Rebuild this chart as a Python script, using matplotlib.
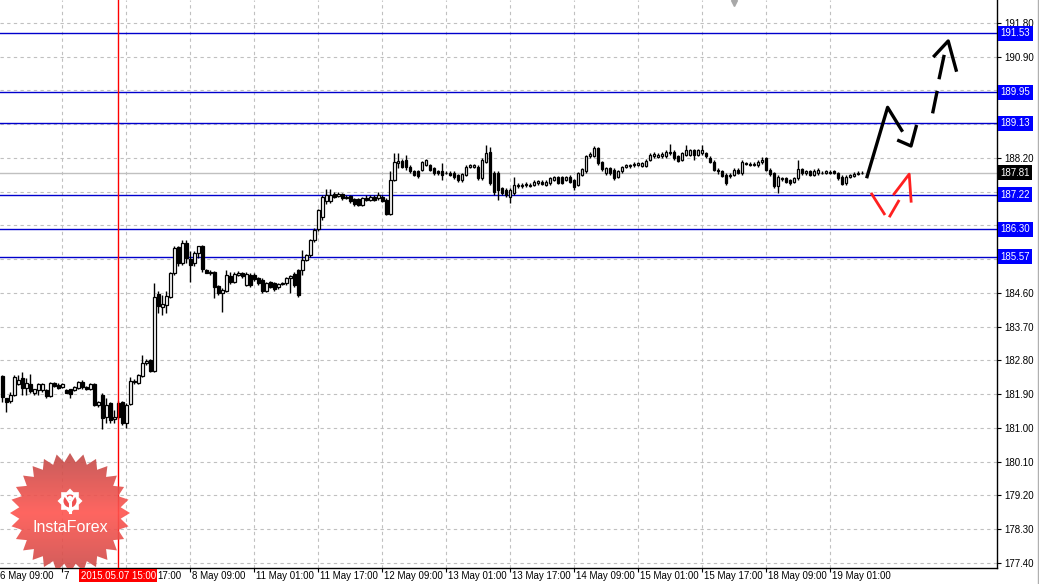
import matplotlib
matplotlib.use('Agg')
import matplotlib.pyplot as plt
import numpy as np
from matplotlib.patches import Polygon, Circle
from matplotlib.lines import Line2D

plt.rcParams['font.family'] = ['Liberation Sans', 'DejaVu Sans']

# H1 candles, bar 0 = 6 May 10:00 ... bar 215 = 19 May 09:00
opens = [
    182.38, 181.79, 181.73, 181.88, 182.17, 182.32, 182.06, 182.17, 181.94, 182.01,
    182.01, 182.01, 181.85, 182.19, 182.14, 182.10, 182.01, 182.03, 182.01, 182.06,
    182.23, 182.08, 182.03, 182.17, 181.61, 181.88, 181.28, 181.66, 181.23, 181.66,
    181.68, 181.14, 181.64, 182.23, 182.21, 182.39, 182.72, 182.80, 182.53, 184.56,
    184.22, 184.28, 184.50, 185.12, 185.82, 185.39, 185.94, 185.50, 185.39, 185.66,
    185.85, 185.21, 185.12, 185.15, 184.79, 184.61, 184.66, 185.06, 184.90, 185.08,
    185.12, 184.81, 185.08, 185.08, 184.99, 184.95, 184.65, 184.88, 184.86, 184.75,
    184.83, 184.86, 184.99, 185.11, 185.21, 185.21, 185.48, 185.61, 186.01, 186.30,
    186.62, 187.04, 187.04, 187.23, 187.19, 187.23, 187.13, 187.19, 187.10, 187.10,
    186.95, 187.12, 187.08, 187.17, 187.12, 187.17, 187.08, 186.71, 187.61, 188.06,
    188.13, 188.15, 187.97, 187.84, 187.84, 187.88, 188.02, 188.01, 187.92, 187.84,
    187.84, 187.79, 187.81, 187.81, 187.75, 187.60, 187.75, 187.97, 187.97, 187.97,
    187.66, 188.10, 188.37, 187.79, 187.79, 187.39, 187.35, 187.17, 187.26, 187.44,
    187.44, 187.47, 187.45, 187.48, 187.52, 187.57, 187.48, 187.52, 187.61, 187.68,
    187.68, 187.61, 187.70, 187.61, 187.48, 187.75, 187.84, 188.24, 188.25, 188.46,
    188.08, 187.79, 187.92, 187.88, 187.70, 187.84, 187.95, 187.98, 188.00, 188.02,
    187.99, 187.99, 188.15, 188.24, 188.22, 188.24, 188.24, 188.37, 188.37, 188.24,
    188.15, 188.28, 188.28, 188.41, 188.28, 188.32, 188.32, 188.19, 188.10, 187.88,
    187.84, 187.75, 187.72, 187.75, 187.88, 187.79, 188.06, 188.04, 188.02, 188.01,
    188.08, 188.19, 187.88, 187.79, 187.44, 187.63, 187.66, 187.61, 187.57, 187.66,
    187.90, 187.79, 187.84, 187.75, 187.79, 187.81, 187.80, 187.83, 187.84, 187.79,
    187.70, 187.52, 187.70, 187.72, 187.77, 187.79,
]
highs = [
    182.41, 181.81, 181.97, 182.41, 182.41, 182.50, 182.32, 182.44, 182.05, 182.19,
    182.20, 182.05, 182.22, 182.22, 182.19, 182.20, 182.03, 182.05, 182.12, 182.26,
    182.28, 182.12, 182.20, 182.20, 181.72, 181.94, 181.80, 181.70, 181.47, 181.72,
    181.72, 181.66, 182.37, 182.30, 182.45, 182.95, 182.85, 182.83, 184.86, 184.64,
    184.55, 184.64, 185.16, 185.85, 185.85, 186.00, 186.00, 185.73, 185.73, 185.85,
    185.88, 185.25, 185.21, 185.19, 184.82, 184.72, 185.20, 185.17, 185.15, 185.18,
    185.16, 185.15, 185.12, 185.12, 185.03, 184.99, 184.90, 184.92, 184.90, 184.87,
    184.90, 185.03, 185.08, 185.15, 185.25, 185.75, 185.65, 186.05, 186.32, 186.85,
    187.20, 187.36, 187.38, 187.30, 187.28, 187.27, 187.22, 187.22, 187.13, 187.13,
    187.16, 187.20, 187.20, 187.21, 187.30, 187.20, 187.12, 187.84, 188.32, 188.32,
    188.17, 188.28, 188.00, 187.88, 187.88, 188.13, 188.18, 188.05, 187.95, 187.87,
    188.06, 187.85, 187.84, 187.84, 187.78, 187.80, 188.00, 188.05, 188.05, 188.00,
    188.19, 188.55, 188.48, 187.84, 187.84, 187.43, 187.39, 187.40, 187.70, 187.52,
    187.52, 187.55, 187.52, 187.60, 187.62, 187.60, 187.60, 187.70, 187.73, 187.72,
    187.72, 187.73, 187.75, 187.65, 187.82, 187.93, 188.27, 188.35, 188.52, 188.50,
    188.12, 187.96, 187.96, 187.92, 187.88, 187.99, 188.05, 188.05, 188.08, 188.10,
    188.10, 188.17, 188.32, 188.35, 188.32, 188.35, 188.40, 188.57, 188.41, 188.28,
    188.36, 188.55, 188.44, 188.45, 188.44, 188.55, 188.36, 188.24, 188.14, 187.92,
    187.88, 187.79, 187.79, 187.92, 187.92, 188.14, 188.10, 188.08, 188.08, 188.14,
    188.22, 188.23, 187.92, 187.83, 187.74, 187.70, 187.70, 187.65, 187.70, 188.15,
    187.94, 187.88, 187.88, 187.90, 187.92, 187.86, 187.88, 187.88, 187.88, 187.82,
    187.74, 187.74, 187.78, 187.82, 187.86, 187.86,
]
lows = [
    181.70, 181.43, 181.66, 181.85, 182.14, 181.88, 181.88, 181.92, 181.88, 181.88,
    181.97, 181.80, 181.82, 182.08, 182.03, 182.06, 181.92, 181.79, 181.98, 182.03,
    182.05, 182.00, 182.00, 181.58, 181.56, 180.97, 181.13, 181.14, 181.12, 181.25,
    181.08, 180.99, 181.60, 182.18, 182.17, 182.35, 182.68, 182.48, 182.48, 184.06,
    184.01, 184.06, 184.46, 185.08, 185.32, 185.35, 185.39, 184.90, 185.32, 185.52,
    185.17, 185.12, 185.08, 184.46, 184.55, 184.10, 184.62, 184.85, 184.87, 185.04,
    185.00, 184.78, 184.77, 184.93, 184.82, 184.61, 184.62, 184.73, 184.66, 184.71,
    184.80, 184.82, 184.61, 184.77, 184.50, 185.08, 185.44, 185.57, 185.97, 186.25,
    186.55, 186.98, 187.00, 187.12, 187.15, 187.08, 187.10, 187.00, 186.93, 186.92,
    186.92, 187.04, 187.05, 187.04, 187.08, 187.02, 186.68, 186.68, 187.58, 187.92,
    187.93, 187.88, 187.80, 187.72, 187.66, 187.85, 187.98, 187.84, 187.75, 187.75,
    187.61, 187.76, 187.72, 187.64, 187.57, 187.56, 187.72, 187.94, 187.94, 187.62,
    187.62, 188.06, 187.48, 187.22, 187.08, 187.20, 187.15, 186.99, 187.22, 187.40,
    187.40, 187.43, 187.42, 187.45, 187.49, 187.48, 187.45, 187.49, 187.58, 187.50,
    187.50, 187.58, 187.53, 187.35, 187.45, 187.71, 187.80, 188.20, 188.22, 188.02,
    187.86, 187.75, 187.75, 187.62, 187.66, 187.80, 187.92, 187.94, 187.96, 187.98,
    187.95, 187.95, 188.12, 188.21, 188.19, 188.21, 188.21, 188.28, 188.15, 188.09,
    188.11, 188.25, 188.24, 188.15, 188.24, 188.28, 188.20, 188.06, 187.84, 187.78,
    187.68, 187.48, 187.66, 187.72, 187.77, 187.75, 188.00, 187.99, 187.99, 187.97,
    188.05, 187.84, 187.73, 187.40, 187.26, 187.59, 187.53, 187.48, 187.53, 187.62,
    187.75, 187.75, 187.71, 187.71, 187.75, 187.76, 187.76, 187.76, 187.76, 187.62,
    187.47, 187.48, 187.66, 187.69, 187.74, 187.76,
]
closes = [
    181.82, 181.70, 181.88, 182.37, 182.28, 182.06, 182.19, 181.99, 182.03, 182.17,
    182.17, 181.85, 182.19, 182.12, 182.06, 182.16, 181.94, 181.90, 182.10, 182.23,
    182.08, 182.05, 182.17, 181.61, 181.68, 181.26, 181.61, 181.21, 181.28, 181.30,
    181.14, 181.61, 182.24, 182.26, 182.41, 182.72, 182.79, 182.53, 184.50, 184.24,
    184.31, 184.52, 185.12, 185.79, 185.39, 185.92, 185.52, 185.35, 185.66, 185.84,
    185.23, 185.14, 185.17, 184.77, 184.61, 184.68, 185.08, 184.90, 185.11, 185.14,
    185.04, 185.11, 184.81, 184.96, 184.86, 184.65, 184.86, 184.77, 184.71, 184.83,
    184.86, 184.99, 185.05, 184.81, 184.55, 185.48, 185.61, 186.01, 186.28, 186.80,
    187.17, 187.21, 187.21, 187.15, 187.23, 187.12, 187.17, 187.04, 186.97, 186.95,
    187.12, 187.08, 187.17, 187.08, 187.21, 187.05, 186.71, 187.61, 188.08, 188.13,
    187.97, 187.97, 187.84, 187.75, 187.72, 188.10, 188.15, 187.88, 187.79, 187.79,
    187.75, 187.81, 187.75, 187.68, 187.61, 187.77, 187.97, 188.01, 188.02, 187.66,
    188.15, 188.32, 187.52, 187.28, 187.35, 187.26, 187.21, 187.35, 187.48, 187.48,
    187.48, 187.50, 187.48, 187.57, 187.59, 187.51, 187.57, 187.66, 187.70, 187.54,
    187.54, 187.70, 187.57, 187.43, 187.79, 187.90, 188.24, 188.31, 188.46, 188.06,
    187.90, 187.92, 187.79, 187.66, 187.84, 187.95, 188.01, 188.01, 188.04, 188.06,
    188.06, 188.13, 188.28, 188.31, 188.28, 188.31, 188.37, 188.32, 188.19, 188.13,
    188.32, 188.40, 188.40, 188.28, 188.40, 188.41, 188.24, 188.10, 187.88, 187.84,
    187.72, 187.52, 187.75, 187.88, 187.81, 188.10, 188.04, 188.02, 188.04, 188.10,
    188.15, 187.88, 187.77, 187.44, 187.70, 187.66, 187.57, 187.52, 187.66, 187.90,
    187.79, 187.84, 187.75, 187.86, 187.88, 187.80, 187.84, 187.79, 187.79, 187.66,
    187.51, 187.70, 187.75, 187.77, 187.80, 187.81,
]

time_ticks = [-1, 15, 31, 47, 63, 79, 95, 111, 127, 143, 159, 175, 191, 207]
time_labels = ['6 May 09:00', '7 May 01:00', '7 May 17:00', '8 May 09:00',
               '11 May 01:00', '11 May 17:00', '12 May 09:00', '13 May 01:00',
               '13 May 17:00', '14 May 09:00', '15 May 01:00', '15 May 17:00',
               '18 May 09:00', '19 May 01:00']
price_ticks = [177.40, 178.30, 179.20, 180.10, 181.00, 181.90, 182.80, 183.70,
               184.60, 185.50, 186.40, 187.30, 188.20, 189.10, 190.00, 190.90, 191.80]
levels = [191.53, 189.95, 189.13, 187.22, 186.30, 185.57]
bid = 187.81
marker_bar = 29
marker_label = '2015.05.07 15:00'

# hand-drawn forecast strokes, (bar, price)
black_solid = [[(216.1, 187.66), (221.35, 189.55), (225.1, 188.90)],
               [(223.75, 188.68), (227.2, 188.52), (228.6, 189.08)]]
black_dashed = [[(232.6, 189.39), (233.75, 189.99)],
                [(234.2, 190.30), (235.5, 190.95)],
                [(232.75, 190.89), (236.5, 191.32), (238.6, 190.50)]]
red_strokes = [[(217.2, 187.27), (220.7, 186.68)],
               [(221.75, 186.62), (224.25, 187.08)],
               [(222.75, 187.21), (226.75, 187.77), (227.25, 187.01)]]

W, H = 1039, 584
fig = plt.figure(figsize=(W / 100, H / 100), dpi=100)
ax = fig.add_axes([0, 16 / H, 997 / W, 568 / H])
ax.set_xlim(-0.575, 248.7)
ax.set_ylim(177.266, 192.413)

# candles
bars = np.arange(len(closes))
o = np.array(opens)
c = np.array(closes)
ax.vlines(bars, lows, highs, color='black', lw=1.0, zorder=3)
body_low = np.minimum(o, c)
body_h = np.maximum(np.abs(c - o), 0.012)
fills = ['white' if cc >= oo else 'black' for oo, cc in zip(o, c)]
ax.bar(bars, body_h, bottom=body_low, width=0.62, color=fills,
       edgecolor='black', linewidth=0.9, zorder=4)

# grid / axes; price labels hidden under the level boxes are left blank
covered = levels + [bid]
ax.set_yticks(price_ticks)
ax.set_yticklabels(['' if min(abs(p - q) for q in covered) < 0.16 else f'{p:.2f}'
                    for p in price_ticks])
ax.set_xticks([t for t in time_ticks if t > -0.575])
ax.grid(True, ls=(0, (3, 3)), color='#c0c0c0', lw=0.8)
ax.set_axisbelow(True)
ax.yaxis.tick_right()
ax.tick_params(axis='y', direction='out', length=3, pad=2, labelsize=7)
ax.tick_params(axis='x', direction='out', length=3, labelbottom=False)
for s in ['left', 'top']:
    ax.spines[s].set_visible(False)
for s in ['right', 'bottom']:
    ax.spines[s].set_color('black')
    ax.spines[s].set_linewidth(1)

# time marker and its label box
ax.axvline(marker_bar, color='red', lw=1, zorder=5)
mark = ax.annotate(marker_label, xy=(marker_bar, 0), xycoords=('data', 'axes fraction'),
                   xytext=(0, -2), textcoords='offset points', ha='center', va='top',
                   fontsize=7, color='white', zorder=10, annotation_clip=False,
                   bbox=dict(boxstyle='square,pad=0.15', fc='red', ec='none'))
fig.canvas.draw()
renderer = fig.canvas.get_renderer()
box_ext = mark.get_bbox_patch().get_window_extent(renderer)

# date labels; the part hidden under the marker box is not drawn
for t, lab in zip(time_ticks, time_labels):
    txt = ax.annotate(lab, xy=(t, 0), xycoords=('data', 'axes fraction'),
                      xytext=(1.5, -2), textcoords='offset points', ha='left', va='top',
                      fontsize=7, annotation_clip=False)
    ext = txt.get_window_extent(renderer)
    if ext.x1 > box_ext.x0 and ext.x0 < box_ext.x1:
        txt.remove()
        if ext.x0 < box_ext.x0:
            # keep only the characters left of the box
            for n_chars in range(len(lab), 0, -1):
                part = ax.annotate(lab[:n_chars], xy=(t, 0), xycoords=('data', 'axes fraction'),
                                   xytext=(1.5, -2), textcoords='offset points',
                                   ha='left', va='top', fontsize=7, annotation_clip=False)
                if part.get_window_extent(renderer).x1 <= box_ext.x0 + 1:
                    break
                part.remove()
        else:
            # keep only the characters right of the box, aligned to the label's end
            for n_chars in range(len(lab), 0, -1):
                part = fig.text(ext.x1 / W, ext.y1 / H, lab[-n_chars:], ha='right', va='top',
                                fontsize=7)
                if part.get_window_extent(renderer).x0 >= box_ext.x1 - 1:
                    break
                part.remove()

# levels
for lv in levels:
    ax.axhline(lv, color='#0000cc', lw=1, zorder=2)
    ax.annotate(f'{lv:.2f}', xy=(1, lv), xycoords=('axes fraction', 'data'),
                xytext=(2.5, 0), textcoords='offset points', ha='left', va='center',
                fontsize=7, color='white', zorder=10, annotation_clip=False,
                bbox=dict(boxstyle='square,pad=0.25', fc='#0000ff', ec='none'))
ax.axhline(bid, color='#c0c0c0', lw=1, zorder=2)
ax.annotate(f'{bid:.2f}', xy=(1, bid), xycoords=('axes fraction', 'data'),
            xytext=(2.5, 0), textcoords='offset points', ha='left', va='center',
            fontsize=7, color='white', zorder=10, annotation_clip=False,
            bbox=dict(boxstyle='square,pad=0.25', fc='black', ec='none'))

# chart shift marker
ax.plot([183], [192.33], marker='v', color='#a8a8a8', ms=5, clip_on=False, zorder=6)

# forecast strokes
for path in black_solid + black_dashed:
    xs, ys = zip(*path)
    ax.plot(xs, ys, color='black', lw=2.4, solid_capstyle='butt', zorder=6)
for path in red_strokes:
    xs, ys = zip(*path)
    ax.plot(xs, ys, color='#ff2020', lw=2.0, solid_capstyle='butt', zorder=6)

fig.add_artist(Line2D([1037.5 / W] * 2, [0, 1], color='#b0b0b0', lw=1))

# InstaForex badge (pixel units, clipped at the chart bottom)
lx = fig.add_axes([6 / W, 16 / H, 128 / W, 119 / H])
lx.set_xlim(-64, 64)
lx.set_ylim(-55, 64)
lx.axis('off')
n = 28
ang = np.linspace(np.pi / 2, np.pi / 2 + 2 * np.pi, 2 * n, endpoint=False)
rad = np.where(np.arange(2 * n) % 2 == 0, 60, 51)
star = Polygon(np.column_stack([rad * np.cos(ang), rad * np.sin(ang)]),
               closed=True, fc='none', ec='none')
lx.add_patch(star)
yy = np.linspace(1, 0, 128)
top = np.array([0.74, 0.29, 0.28])
mid = np.array([1.0, 0.33, 0.31])
bot = np.array([0.78, 0.29, 0.28])
wgt = np.abs(yy - 0.5) * 2
cols = np.where((yy > 0.5)[:, None], mid + (top - mid) * wgt[:, None],
                mid + (bot - mid) * wgt[:, None])
img = np.repeat(cols[:, None, :], 2, axis=1)
im = lx.imshow(img, extent=(-64, 64, -64, 64), aspect='auto', alpha=0.9, zorder=1)
im.set_clip_path(star)
g_ang = np.linspace(0, 2 * np.pi, 16, endpoint=False)
g_rad = np.where(np.arange(16) % 2 == 0, 12.5, 9.5)
lx.add_patch(Polygon(np.column_stack([g_rad * np.cos(g_ang), 12 + g_rad * np.sin(g_ang)]),
                     closed=True, fc='white', ec='none', zorder=2))
lx.add_patch(Circle((0, 12), 6.5, fc='#f05050', ec='none', zorder=3))
lx.add_patch(Circle((0, 15), 2.3, fc='white', ec='none', zorder=4))
lx.plot([-4.5, 0, 4.5], [17, 10, 17], color='white', lw=1.6, zorder=4)
lx.plot([0, 0], [10, 1], color='white', lw=2.2, zorder=4)
lx.text(0, -14, 'InstaForex', color='white', fontsize=11.5, ha='center', va='center', zorder=5)

fig.savefig('out.png', dpi=100)
